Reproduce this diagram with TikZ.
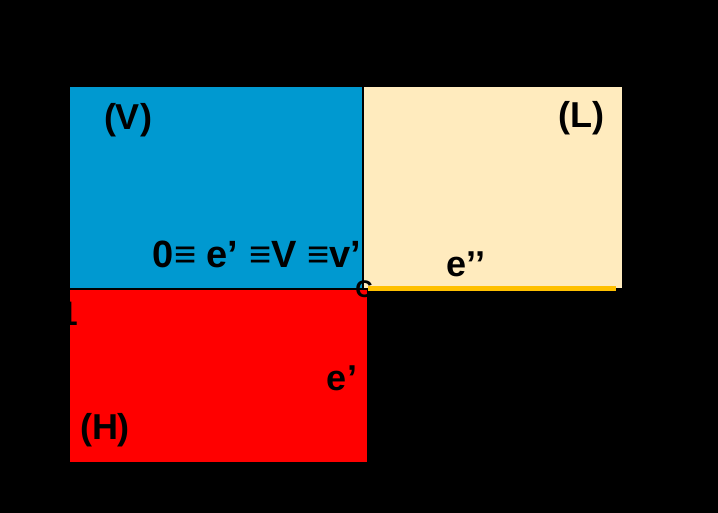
\documentclass[tikz,border=0pt]{standalone}
\usepackage{fontspec}
\setmainfont{Liberation Sans}
\definecolor{vblue}{RGB}{0,153,208}
\definecolor{lbeige}{RGB}{255,235,190}
\definecolor{hred}{RGB}{255,0,0}
\definecolor{eyel}{RGB}{255,192,0}
\tikzset{
  lbl/.style={font=\bfseries\fontsize{36}{40}\selectfont, text=black, inner sep=0pt},
  region/.style={draw=black, line width=2pt}
}
\begin{document}
\begin{tikzpicture}[x=1pt,y=-1pt]
\fill[black] (0,0) rectangle (718,513);
\useasboundingbox (0,0) rectangle (718,513);
\filldraw[region, fill=vblue] (69,86) rectangle (363,289);
\filldraw[region, fill=lbeige] (363,86) rectangle (623,289);
\filldraw[region, fill=hred] (69,289) rectangle (368,463);
\coordinate (ea) at (368,289);
\coordinate (eb) at (616,289);
\draw[eyel, line width=5pt] (ea) -- (eb);
\node[lbl] (V) at (128,120) {(V)};
\node[lbl] (L) at (581,118) {(L)};
\node[lbl, font=\bfseries\fontsize{38}{42}\selectfont] (eq) at (257,254) {0≡ e’ ≡V ≡v’};
\node[lbl] (epp) at (466,264) {e’’};
\node[lbl] (ep) at (342,378) {e’};
\node[lbl] (H) at (105,430) {(H)};
\node[font=\bfseries\fontsize{24}{26}\selectfont, inner sep=0pt] (C) at (364,289) {C};
\node[font=\bfseries\fontsize{34}{36}\selectfont, inner sep=0pt, anchor=east] (one) at (78,314) {1};
\end{tikzpicture}
\end{document}
